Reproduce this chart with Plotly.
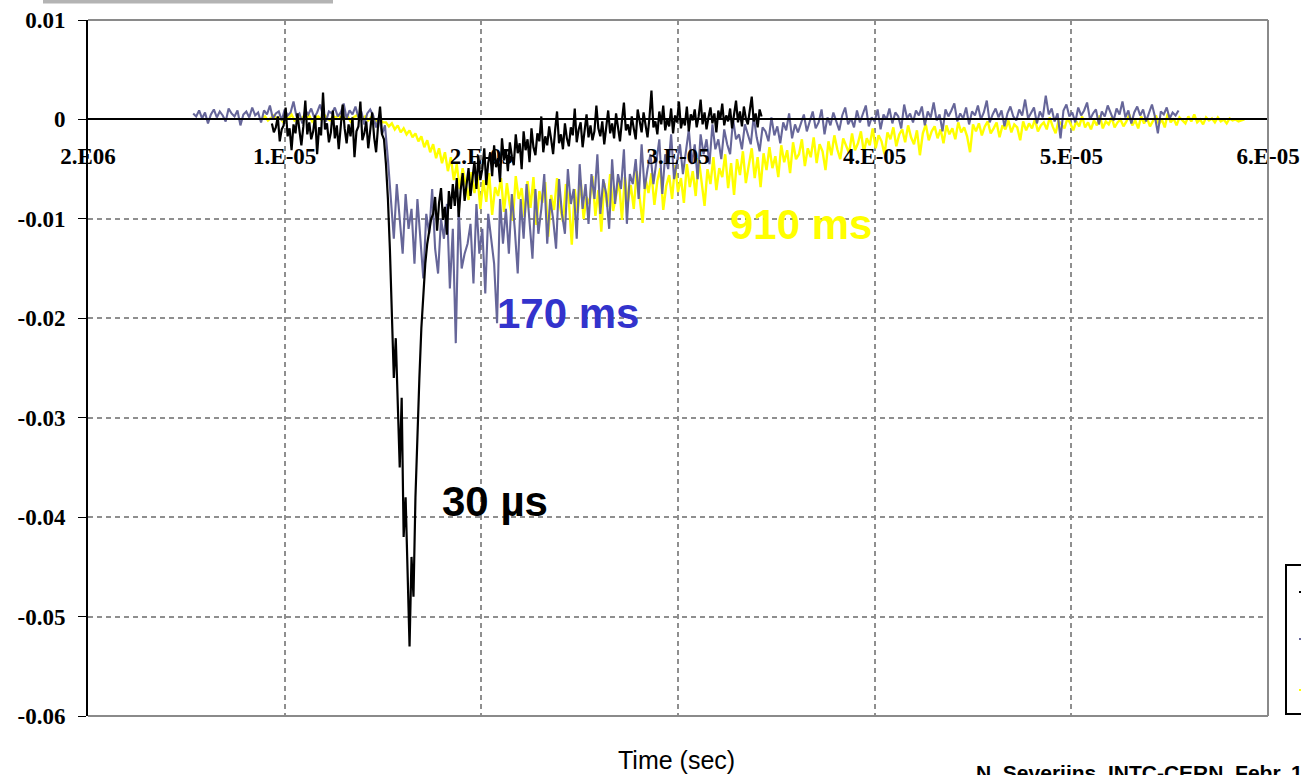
import plotly.graph_objects as go

# ---------------- data ----------------
# signal amplitudes in units of 1e-3; sampling grid: start time and step in microseconds
black_t0_us, black_dt_us = 9.35, 0.10
black_milli = [
    # 9.35 - 15.0 us : baseline noise
    -0.4, -1.3, -0.8, 0.3, -2.2, -1.0, -0.6, 1.2, -1.7, -0.9,
    -3.1, -0.5, -1.4, 0.6, -1.1, -2.6, -0.7, 1.9, -1.5, -0.3,
    -2.0, -1.2, 0.4, -3.5, -0.8, -1.6, 2.7, -1.0, -0.4, -2.3,
    -1.3, 0.9, -1.9, -0.6, -3.0, -1.1, 1.5, -0.9, -2.4, -0.5,
    -1.7, 0.2, -3.8, -1.2, -0.7, 1.8, -2.1, -1.4, -0.2, -2.9,
    -1.0, 0.7, -1.8, -3.3, -0.6, 1.3, -1.5,
    # 15.05 - 17.45 us : sharp dip
    -2.0, -4.5, -8.0, -13.0, -19.0, -26.0, -22.0, -30.0, -35.0, -28.0,
    -42.0, -38.0, -47.0, -53.0, -44.0, -48.0, -38.0, -31.0, -26.0, -21.0,
    -17.0, -14.5, -12.5, -11.0, -10.0,
    # 17.55 - 34.25 us : recovery
    -9.5, -7.8, -11.2, -8.4, -6.9, -10.1, -8.8, -11.6, -7.2, -9.0,
    -6.5, -8.7, -5.9, -9.8, -7.1, -5.4, -8.2, -6.6, -4.9, -7.7,
    -5.8, -4.2, -7.0, -3.6, -6.1, -5.0, -2.9, -6.6, -4.4, -3.3,
    -5.7, -2.6, -4.8, -3.9, -6.3, -1.9, -4.1, -3.0, -5.2, -2.3,
    -3.7, -4.6, -1.5, -3.4, -2.4, -5.0, -1.2, -3.1, -2.0, -4.3,
    -0.9, -2.8, -3.6, -1.4, -2.2, 0.3, -3.3, -1.7, -2.6, -0.7,
    -2.0, -3.5, -1.1, 0.8, -2.4, -1.5, -3.0, -0.4, -1.9, -2.7,
    -0.8, -1.6, 1.1, -2.3, -1.0, -0.3, -2.8, -1.3, 0.5, -1.8,
    -0.6, -2.1, -1.2, 1.4, -0.9, -1.7, -0.2, -2.5, -0.7, 0.9,
    -1.4, -0.4, -1.9, 0.6, -0.8, -2.2, -0.1, 1.7, -1.1, -0.5,
    -1.6, 0.3, -0.9, -2.0, 1.0, -0.3, -1.3, 0.7, -0.6, -1.8,
    0.2, 2.9, -0.8, -0.2, -1.5, 0.8, -0.5, 1.4, -1.1, 0.0,
    -0.7, 1.1, -1.4, 0.4, -0.3, 1.8, -0.9, 0.1, -0.6, 1.3,
    -1.2, 0.5, -0.1, 1.0, -0.8, 0.3, 2.0, -0.5, 0.7, -1.0,
    0.2, 1.2, -0.4, 0.6, -1.3, 0.9, 0.0, 1.6, -0.6, 0.4,
    -0.2, 1.1, -0.9, 0.5, 1.9, -0.3, 0.8, -0.7, 1.3, 0.1,
    -0.5, 0.9, 2.3, -0.2, 0.6, -0.8, 1.0, 0.3,
]

purple_t0_us, purple_dt_us = 5.35, 0.15
purple_milli = [
    # 5.35 - 15.1 us : baseline
    0.6, 0.3, 0.9, 0.1, 0.7, -0.4, 0.5, 1.0, 0.2, 0.8,
    0.4, -0.2, 1.1, 0.6, 0.3, 0.9, -0.6, 0.5, 0.8, 0.2,
    1.2, 0.4, 0.7, -0.3, 0.9, 0.5, 1.4, 0.1, 0.6, 0.8,
    -0.1, 1.0, 0.4, 0.7, 1.8, 0.3, 0.6, -0.4, 0.9, 0.5,
    1.1, 0.2, 0.7, 1.5, 0.4, -0.2, 0.8, 0.6, 1.2, 0.3,
    0.7, 1.6, 0.1, 0.9, 0.5, 1.3, 0.2, 0.8, -0.5, 0.6,
    1.0, 0.4, -0.8, 0.3, -1.5, -0.6,
    # 15.25 - 21.1 us : drop
    -4.0, -8.5, -12.0, -6.5, -10.5, -13.5, -7.5, -11.0, -9.0, -14.5,
    -8.0, -12.5, -16.0, -9.5, -11.5, -7.0, -13.0, -15.5, -10.0, -12.0,
    -8.5, -17.0, -11.0, -22.5, -9.0, -15.0, -13.5, -12.5, -10.5, -16.5,
    -8.5, -13.5, -11.0, -17.5, -9.5, -12.0, -14.5, -20.5, -8.0, -12.5,
    # 21.25 - 36.1 us : recovery
    -9.0, -13.5, -7.5, -11.0, -15.5, -8.0, -12.0, -6.5, -10.5, -14.0,
    -7.0, -11.5, -9.0, -5.5, -12.5, -8.0, -10.0, -13.0, -6.0, -9.5,
    -11.5, -5.0, -8.5, -7.0, -12.0, -4.5, -9.0, -6.5, -10.5, -5.5,
    -8.0, -3.5, -9.5, -6.0, -7.5, -11.0, -4.0, -8.5, -5.5, -7.0,
    -3.0, -10.5, -5.5, -6.5, -4.0, -8.0, -2.5, -7.0, -5.0, -3.5,
    -6.5, -4.5, -2.0, -7.5, -3.5, -5.0, -1.5, -6.0, -4.0, -2.5,
    -5.5, -3.0, -1.0, -4.5, -2.5, -6.0, -1.5, -3.5, -2.0, -4.5,
    -0.5, -3.0, -2.0, -4.0, -1.0, -2.5, -3.5, 0.0, -2.0, -1.5,
    -3.0, -0.5, -1.5, -2.5, 0.3, -1.8, -3.2, -0.8, -1.2, -2.2,
    0.2, -1.6, -0.7, -2.4, -0.3, -1.1, 0.6, -1.9, -0.5, -1.3,
    # 36.25 - 55.45 us : tail
    -0.4, 0.5, -1.2, -0.1, 0.8, -0.9, -0.3, 1.0, -1.5, 0.2,
    -0.6, 0.7, -0.2, -1.1, 0.4, 1.2, -0.5, 0.1, -0.8, 0.9,
    -0.3, 0.6, 1.4, -0.7, 0.2, -0.2, 1.0, -1.0, 0.5, 0.0,
    1.1, -0.4, 0.7, 0.3, -0.9, 1.5, 0.1, 0.6, -0.3, 0.9,
    0.4, 1.3, -0.6, 0.8, 0.2, 1.7, -0.1, 0.5, -1.2, 1.0,
    0.3, 0.9, 1.6, -0.2, 0.6, 0.1, 1.2, -0.5, 0.8, 0.4,
    1.4, 0.0, 0.7, 1.9, -0.3, 0.5, 1.1, 0.2, 0.9, -0.7,
    0.6, 1.3, 0.3, -0.1, 1.0, 0.4, 2.0, 0.1, 0.7, 1.2,
    -0.4, 0.8, 0.2, 2.4, 0.5, 1.1, -0.2, 0.6, -1.9, 0.9,
    1.5, 0.3, 0.7, -0.3, 1.2, 0.4, 0.9, 1.7, 0.0, 0.6,
    1.0, -0.5, 0.8, 0.3, 1.4, 0.6, -0.1, 1.1, 0.5, 1.8,
    0.2, 0.9, -0.4, 0.7, 1.3, 0.4, 1.0, -0.2, 0.6, 1.5,
    0.3, -1.4, 0.8, 0.5, 1.2, 0.1, 0.7, 0.4, 0.9,
]

yellow_t0_us, yellow_dt_us = 8.85, 0.15
yellow_milli = [
    # 8.85 - 15.0 us : baseline
    0.1, 0.3, -0.1, 0.2, 0.4, 0.0, 0.2, -0.2, 0.3, 0.1,
    0.5, -0.1, 0.2, 0.0, 0.3, 0.1, 0.4, -0.2, 0.2, 0.3,
    0.0, 0.5, 0.1, -0.1, 0.3, 0.2, 0.4, 0.0, 0.1, 0.3,
    -0.2, 0.2, 0.4, 0.1, 0.0, 0.3, -0.1, 0.2, 0.1, -0.2,
    0.0, -0.3,
    # 15.15 - 58.8 us : slow dip and recovery
    -0.3, -0.7, -0.4, -1.0, -0.6, -1.3, -0.9, -1.5, -1.1, -1.8,
    -1.4, -2.2, -1.7, -2.8, -2.1, -3.3, -2.5, -3.9, -2.9, -4.4,
    -3.3, -5.2, -3.8, -6.1, -4.5, -7.0, -4.9, -6.4, -8.1, -5.3,
    -7.4, -5.6, -9.0, -6.1, -8.3, -5.4, -9.6, -6.8, -7.7, -5.9,
    -9.3, -6.4, -8.6, -10.2, -5.7, -8.0, -6.9, -9.8, -6.2, -8.9,
    -5.8, -10.6, -7.2, -8.4, -6.3, -11.8, -7.6, -9.1, -5.9, -8.7,
    -10.3, -6.5, -8.2, -12.6, -7.0, -9.4, -6.1, -10.0, -7.8, -8.5,
    -5.7, -9.7, -7.1, -11.3, -6.4, -8.8, -5.5, -9.2, -7.5, -6.2,
    -10.1, -5.8, -8.3, -6.6, -9.0, -5.2, -7.9, -10.4, -6.0, -7.4,
    -5.4, -8.6, -6.2, -4.9, -9.1, -6.7, -5.6, -8.0, -4.6, -7.3,
    -5.9, -8.4, -4.5, -6.8, -5.2, -7.7, -3.9, -6.3, -8.7, -5.0,
    -6.5, -3.8, -7.1, -4.9, -5.8, -3.5, -6.9, -4.4, -7.6, -4.0,
    -5.6, -3.2, -6.4, -4.6, -2.9, -5.9, -3.8, -6.8, -3.4, -5.1,
    -2.8, -4.9, -3.7, -5.8, -2.6, -4.3, -3.1, -5.4, -2.3, -4.0,
    -3.5, -2.0, -4.7, -2.9, -3.8, -1.8, -4.4, -2.5, -3.2, -5.1,
    -2.2, -3.6, -1.6, -3.0, -4.0, -1.9, -2.7, -3.4, -1.4, -3.1,
    -2.4, -1.2, -3.3, -1.9, -2.6, -0.9, -2.9, -1.6, -2.2, -3.5,
    -1.3, -2.0, -0.8, -2.7, -1.5, -1.0, -2.3, -0.6, -1.8, -2.5,
    -1.1, -3.6, -1.4, -0.5, -2.1, -1.2, -0.7, -1.9, -1.0, -2.4,
    -0.6, -1.5, -0.9, -2.0, -0.3, -1.3, -0.8, -1.7, -3.3, -0.5,
    -1.2, -0.4, -1.6, -0.7, -0.2, -1.4, -0.9, -0.3, -1.8, -0.6,
    -1.0, -0.1, -1.3, -0.5, -0.8, -2.1, -0.2, -1.1, -0.4, -0.9,
    0.0, -1.2, -0.6, -0.3, -1.0, 0.2, -0.7, -1.4, -0.1, -0.5,
    -0.9, 0.1, -0.4, -1.1, -0.2, -0.7, 0.3, -0.8, -0.3, -1.0,
    -0.1, -0.6, 0.4, -0.9, -0.2, -0.5, 0.2, -0.8, -0.3, 0.0,
    -0.7, -0.2, 0.5, -0.6, -0.1, -0.9, 0.3, -0.4, 0.1, -0.7,
    -0.2, 0.4, -0.5, 0.0, -0.8, 0.6, -0.3, 0.1, -0.6, 0.2,
    -0.1, -0.4, 0.3, -0.2, 0.5, -0.3, 0.0, -0.5, 0.2, -0.1,
    0.1, -0.3, 0.2, -0.2, 0.0, -0.4, 0.1, -0.1, 0.0, -0.2,
    -0.1, 0.0,
]

x_tick_values = [0, 1e-5, 2e-5, 3e-5, 4e-5, 5e-5, 6e-5]
x_tick_labels = ["2.E06", "1.E-05", "2.E-05", "3.E-05", "4.E-05", "5.E-05", "6.E-05"]
y_tick_values = [0.01, 0.0, -0.01, -0.02, -0.03, -0.04, -0.05, -0.06]
y_tick_labels = ["0.01", "0", "-0.01", "-0.02", "-0.03", "-0.04", "-0.05", "-0.06"]

series_labels = ["30 \u00b5s", "170 ms", "910 ms"]


def times(t0_us, dt_us, n):
    return [(t0_us + dt_us * i) * 1e-6 for i in range(n)]


# ---------------- figure ----------------
W, H = 1301, 775
ML, MR, MT, MB = 88, 33, 20, 59
PW, PH = W - ML - MR, H - MT - MB


def px(xp):
    return (xp - ML) / PW


def py(yp):
    return (H - MB - yp) / PH


fig = go.Figure()
fig.add_trace(go.Scatter(
    x=times(yellow_t0_us, yellow_dt_us, len(yellow_milli)),
    y=[v * 1e-3 for v in yellow_milli],
    mode="lines", line=dict(color="#ffff00", width=2.4), name=series_labels[2]))
fig.add_trace(go.Scatter(
    x=times(purple_t0_us, purple_dt_us, len(purple_milli)),
    y=[v * 1e-3 for v in purple_milli],
    mode="lines", line=dict(color="#666699", width=2.1), name=series_labels[1]))
fig.add_trace(go.Scatter(
    x=times(black_t0_us, black_dt_us, len(black_milli)),
    y=[v * 1e-3 for v in black_milli],
    mode="lines", line=dict(color="#000000", width=2.2), name=series_labels[0]))

grid = dict(gridcolor="#8f8f8f", gridwidth=1.5, griddash="5px,4px")
tickfont = dict(family="Liberation Serif, Times New Roman, serif", size=23,
                color="#000000", weight="bold")

fig.update_layout(
    width=W, height=H,
    margin=dict(l=ML, r=MR, t=MT, b=MB, pad=0, autoexpand=False),
    paper_bgcolor="#ffffff", plot_bgcolor="#ffffff",
    showlegend=False,
    xaxis=dict(
        range=[0, 6e-5], tickvals=x_tick_values, ticktext=x_tick_labels,
        anchor="free", position=6 / 7, automargin=False,
        showline=True, linecolor="#000000", linewidth=2,
        ticks="", ticklabelstandoff=16, tickfont=tickfont,
        zeroline=False, showgrid=True, **grid,
    ),
    yaxis=dict(
        range=[-0.06, 0.01], tickvals=y_tick_values, ticktext=y_tick_labels,
        automargin=False,
        showline=True, linecolor="#000000", linewidth=2,
        ticks="outside", ticklen=8, tickwidth=1, tickcolor="#000000",
        ticklabelstandoff=8, tickfont=tickfont,
        zeroline=False, showgrid=True, **grid,
    ),
    font=dict(family="Liberation Sans, Arial, sans-serif"),
)

# plot frame (top / right / bottom in grey, as in the original)
fig.add_shape(type="line", xref="paper", yref="paper", x0=0, x1=1, y0=1, y1=1,
              line=dict(color="#8a8a8a", width=2))
fig.add_shape(type="line", xref="paper", yref="paper", x0=1, x1=1, y0=0, y1=1,
              line=dict(color="#8a8a8a", width=2))
fig.add_shape(type="line", xref="paper", yref="paper", x0=0, x1=1, y0=0, y1=0,
              line=dict(color="#8a8a8a", width=2))
# grey bar fragment at top-left
fig.add_shape(type="rect", xref="paper", yref="paper",
              x0=px(43), x1=px(333), y0=py(3.5), y1=py(0),
              line=dict(width=0), fillcolor="#b4b4b4")
# partially visible legend box at the right edge
fig.add_shape(type="rect", xref="paper", yref="paper",
              x0=px(1286), x1=px(1330), y0=py(714), y1=py(565),
              line=dict(color="#000000", width=2), fillcolor="rgba(0,0,0,0)")
for yy, col in [(592, "#000000"), (639, "#666699"), (690, "#ffff00")]:
    fig.add_shape(type="line", xref="paper", yref="paper",
                  x0=px(1299), x1=px(1320), y0=py(yy), y1=py(yy),
                  line=dict(color=col, width=2))

# series labels in the plot
lab_font = dict(family="Liberation Sans, Arial, sans-serif", size=42, weight="bold")
for (xc, yc, txt, col) in [(801, 224, series_labels[2], "#ffff00"),
                           (568, 313, series_labels[1], "#3333cc"),
                           (495, 501, series_labels[0], "#000000")]:
    fig.add_annotation(x=px(xc), y=py(yc), xref="paper", yref="paper", text=txt,
                       xanchor="center", yanchor="middle", showarrow=False,
                       font=dict(color=col, **lab_font))

# axis title and credit line
fig.add_annotation(x=px(676), y=py(760), xref="paper", yref="paper", text="Time (sec)",
                   xanchor="center", yanchor="middle", showarrow=False,
                   font=dict(family="Liberation Sans Narrow, Arial Narrow, Liberation Sans, sans-serif",
                             size=25, color="#000000"))
fig.add_annotation(x=px(974), y=py(759), xref="paper", yref="paper",
                   xanchor="left", yanchor="top",
                   text="N. Severijns, INTC-CERN, Febr. 1",
                   showarrow=False,
                   font=dict(family="Liberation Sans, Arial, sans-serif",
                             size=21, color="#000000", weight="bold"))

fig.write_html("out.html")
